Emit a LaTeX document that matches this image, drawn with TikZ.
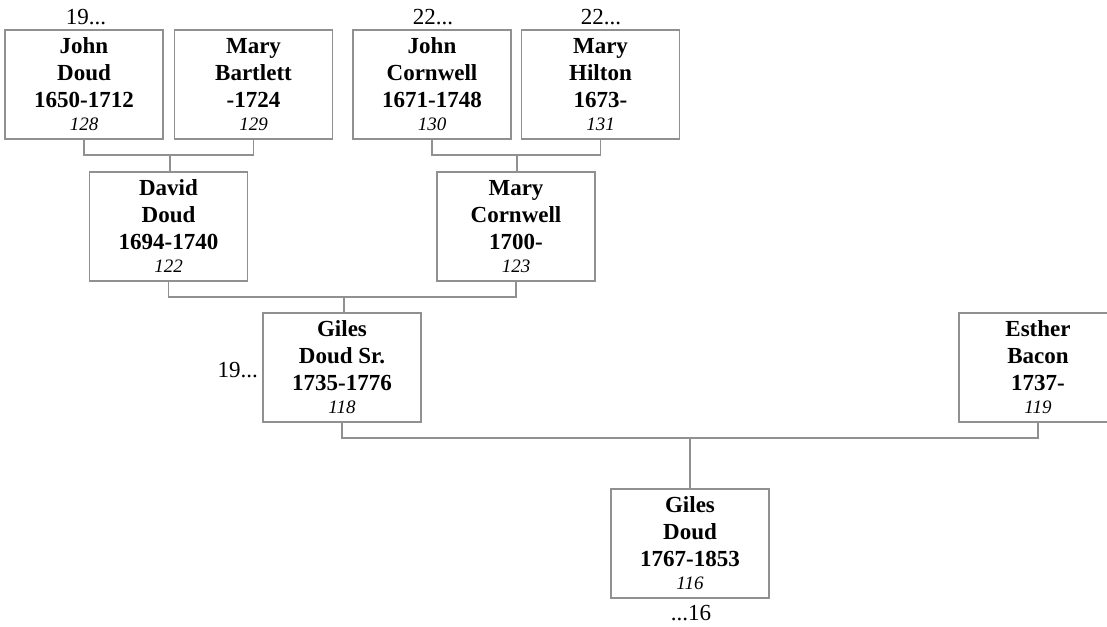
\documentclass[tikz,border=0pt]{standalone}
\usepackage{fontspec}
\setmainfont{Liberation Serif}
\definecolor{linegray}{HTML}{909090}
\tikzset{
  person/.style={draw=linegray, line width=1.3pt, fill=white, rectangle,
    minimum width=158pt, minimum height=109pt, inner sep=0pt, align=center,
    font=\fontsize{23}{27}\selectfont\bfseries},
  lbl/.style={font=\fontsize{23}{27}\selectfont, inner sep=0pt},
  conn/.style={draw=linegray, line width=1.3pt}
}
\newcommand{\pnum}[1]{\\[-4pt]{\fontsize{19}{23}\selectfont\mdseries\itshape #1}}
\begin{document}
\begin{tikzpicture}[x=1pt,y=-1pt]
\useasboundingbox (0,0) rectangle (1107,626);
\clip (0,0) rectangle (1107,626);
% persons
\node[person] (john) at (84,84.5) {John\\Doud\\1650-1712\pnum{128}};
\node[person] (maryb) at (253.5,84.5) {Mary\\Bartlett\\-1724\pnum{129}};
\node[person] (johnc) at (432,84.5) {John\\Cornwell\\1671-1748\pnum{130}};
\node[person] (maryh) at (600.5,84.5) {Mary\\Hilton\\1673-\pnum{131}};
\node[person] (david) at (168.5,226.5) {David\\Doud\\1694-1740\pnum{122}};
\node[person] (maryc) at (516,226.5) {Mary\\Cornwell\\1700-\pnum{123}};
\node[person] (gilessr) at (342,367.5) {Giles\\Doud Sr.\\1735-1776\pnum{118}};
\node[person] (esther) at (1038,367.5) {Esther\\Bacon\\1737-\pnum{119}};
\node[person] (giles) at (690,543.5) {Giles\\Doud\\1767-1853\pnum{116}};
% labels
\node[lbl, anchor=base] (l1) at (86,25) {19...};
\node[lbl, anchor=base] (l2) at (433,25) {22...};
\node[lbl, anchor=base] (l3) at (601,25) {22...};
\node[lbl, anchor=base east] (l4) at (258,377) {19...};
\node[lbl, anchor=base] (l5) at (691,620) {...16};
% connectors
\coordinate (c1) at (170,155);
\coordinate (c2) at (517,155);
\coordinate (c3) at (344,297);
\coordinate (c4) at (690,438);
\draw[conn] (john.south) |- (c1) -| (maryb.south);
\draw[conn] (c1) -- (c1 |- david.north);
\draw[conn] (johnc.south) |- (c2) -| (maryh.south);
\draw[conn] (c2) -- (c2 |- maryc.north);
\draw[conn] (david.south) |- (c3) -| (maryc.south);
\draw[conn] (c3) -- (c3 |- gilessr.north);
\draw[conn] (gilessr.south) |- (c4) -| (esther.south);
\draw[conn] (c4) -- (giles.north);
\end{tikzpicture}
\end{document}
